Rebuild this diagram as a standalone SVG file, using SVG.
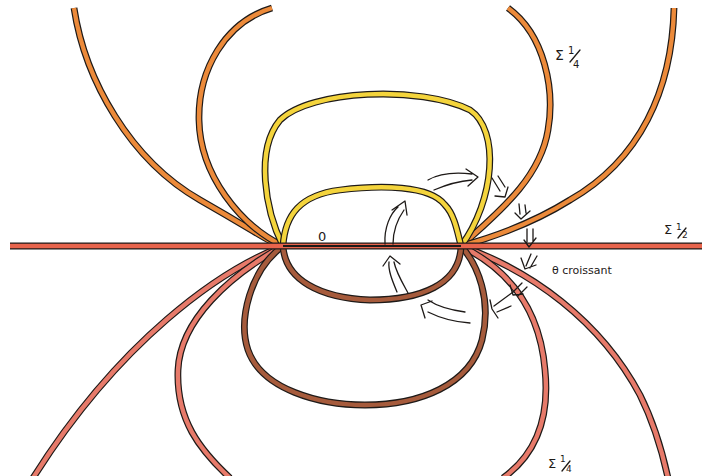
<svg xmlns="http://www.w3.org/2000/svg" xmlns:xlink="http://www.w3.org/1999/xlink" width="702" height="476" viewBox="0 0 702 476">
<style>
.ol{fill:none;stroke:#1e1a18;stroke-width:6.8;stroke-linecap:butt;stroke-linejoin:round}
.or{fill:none;stroke:#ec8a3a;stroke-width:4.4;stroke-linecap:butt}
.ye{fill:none;stroke:#f4d43c;stroke-width:4.4;stroke-linecap:butt}
.rd{fill:none;stroke:#e8644c;stroke-width:4.4;stroke-linecap:butt}
.sa{fill:none;stroke:#e77a6a;stroke-width:4.4;stroke-linecap:butt}
.br{fill:none;stroke:#a65b3c;stroke-width:4.4;stroke-linecap:butt}
.ar{fill:none;stroke:#1e1a18;stroke-width:1.3;stroke-linecap:round;stroke-linejoin:round}
.lb{font-family:"DejaVu Sans","Liberation Sans",sans-serif;fill:#1e1a18}
</style>
<defs>
<path id="pH" d="M10,246 H702"/>
<path id="pOL" d="M74,8 C 85,80 130,160 200,200 S 265,240 283,246"/>
<path id="pIL" d="M272,8 C 225,22 198,70 199,120 C 200,175 240,225 283,246"/>
<path id="pIR" d="M508,8 C 545,35 555,90 548,130 C 540,180 495,215 461,246"/>
<path id="pORr" d="M674,8 C 672,90 640,160 570,200 C 530,225 490,238 461,246"/>
<path id="pYO" d="M283,246 C 265,210 255,150 280,120 C 310,90 420,85 470,110 C 500,130 495,200 461,246"/>
<path id="pYI" d="M283,246 C 285,215 300,195 340,190 C 380,185 430,185 445,205 C 455,215 458,235 461,246"/>
<path id="pBI" d="M283,246 C 285,280 320,298 370,300 C 420,300 460,285 461,246"/>
<path id="pBO" d="M283,246 C 250,270 238,320 248,350 C 262,390 320,405 365,405 C 420,405 470,385 482,340 C 492,300 478,265 461,246"/>
<path id="pLLO" d="M283,246 C 220,270 120,340 33,478"/>
<path id="pLLI" d="M283,246 C 230,275 180,320 178,370 C 176,420 200,450 230,478"/>
<path id="pLRI" d="M461,246 C 510,270 540,310 545,370 C 550,420 535,455 503,478"/>
<path id="pLRO" d="M461,246 C 530,270 600,320 640,395 C 655,425 663,455 668,478"/>
</defs>
<rect width="702" height="476" fill="#ffffff"/>
<g id="curves">
<g id="lower-left-outer"><use xlink:href="#pLLO" class="ol"/><use xlink:href="#pLLO" class="sa"/></g>
<g id="lower-left-inner"><use xlink:href="#pLLI" class="ol"/><use xlink:href="#pLLI" class="sa"/></g>
<g id="lower-right-outer"><use xlink:href="#pLRO" class="ol"/><use xlink:href="#pLRO" class="sa"/></g>
<g id="lower-right-inner"><use xlink:href="#pLRI" class="ol"/><use xlink:href="#pLRI" class="sa"/></g>
<g id="brown-outer"><use xlink:href="#pBO" class="ol"/><use xlink:href="#pBO" class="br"/></g>
<g id="brown-inner"><use xlink:href="#pBI" class="ol"/><use xlink:href="#pBI" class="br"/></g>
<g id="orange-outer-left"><use xlink:href="#pOL" class="ol"/><use xlink:href="#pOL" class="or"/></g>
<g id="orange-inner-left"><use xlink:href="#pIL" class="ol"/><use xlink:href="#pIL" class="or"/></g>
<g id="orange-inner-right"><use xlink:href="#pIR" class="ol"/><use xlink:href="#pIR" class="or"/></g>
<g id="orange-outer-right"><use xlink:href="#pORr" class="ol"/><use xlink:href="#pORr" class="or"/></g>
<g id="yellow-outer"><use xlink:href="#pYO" class="ol"/><use xlink:href="#pYO" class="ye"/></g>
<g id="yellow-inner"><use xlink:href="#pYI" class="ol"/><use xlink:href="#pYI" class="ye"/></g>
<g id="sigma-half"><use xlink:href="#pH" class="ol"/><use xlink:href="#pH" class="rd"/>
<path d="M283,246 H461" stroke="#1e1a18" stroke-width="2.2" fill="none"/></g>
</g>
<g id="connectors">
<path class="ar" d="M385,244 C 384,228 390,214 398,207 M393,244 C 393,232 397,220 404,210 M392,210 L405,201 L407,215"/>
<path class="ar" d="M397,292 C 392,280 388,270 389,262 M408,293 C 402,282 396,272 394,262 M383,266 L390,256 L400,264"/>
<path class="ar" d="M428,180 C 440,173 455,172 472,174 M434,190 C 448,184 460,181 472,180 M466,169 L478,177 L468,186"/>
<path class="ar" d="M492,178 L500,191 M498,176 L505,187 M495,196 L505,197 L508,187"/>
<path class="ar" d="M519,204 L520,214 M525,205 L526,213 M515,213 L521,219 L530,211"/>
<path class="ar" d="M527,229 L527,242 M533,229 L533,241 M524,240 L529,247 L536,238"/>
<path class="ar" d="M531,254 L526,266 M537,256 L530,268 M521,258 L525,269 L536,265"/>
<path class="ar" d="M522,283 L513,292 M527,287 L518,296 M510,285 L513,295 L523,294"/>
<path class="ar" d="M513,292 L494,306 M511,306 L497,312 M490,300 L492,309 L498,318"/>
<path class="ar" d="M465,312 C 450,310 437,306 428,300 M470,323 C 455,322 440,318 428,312 M432,301 L421,305 L425,318"/>
</g>
<g id="labels">
<text class="lb" x="318" y="241" font-size="13">0</text>
<text class="lb" x="555" y="60" font-size="14">Σ</text>
<text class="lb" x="568" y="54" font-size="10">1</text>
<text class="lb" x="573" y="68" font-size="10">4</text>
<path class="ar" d="M570,62 L580,50" stroke-width="1"/>
<text class="lb" x="664" y="234" font-size="13">Σ</text>
<text class="lb" x="676" y="230" font-size="9">1</text>
<text class="lb" x="682" y="238" font-size="9">2</text>
<path class="ar" d="M678,238 L686,228" stroke-width="1"/>
<text class="lb" x="552" y="274" font-size="11">θ croissant</text>
<text class="lb" x="548" y="468" font-size="13">Σ</text>
<text class="lb" x="560" y="462" font-size="9">1</text>
<text class="lb" x="566" y="472" font-size="9">4</text>
<path class="ar" d="M562,471 L570,461" stroke-width="1"/>
</g>
</svg>
